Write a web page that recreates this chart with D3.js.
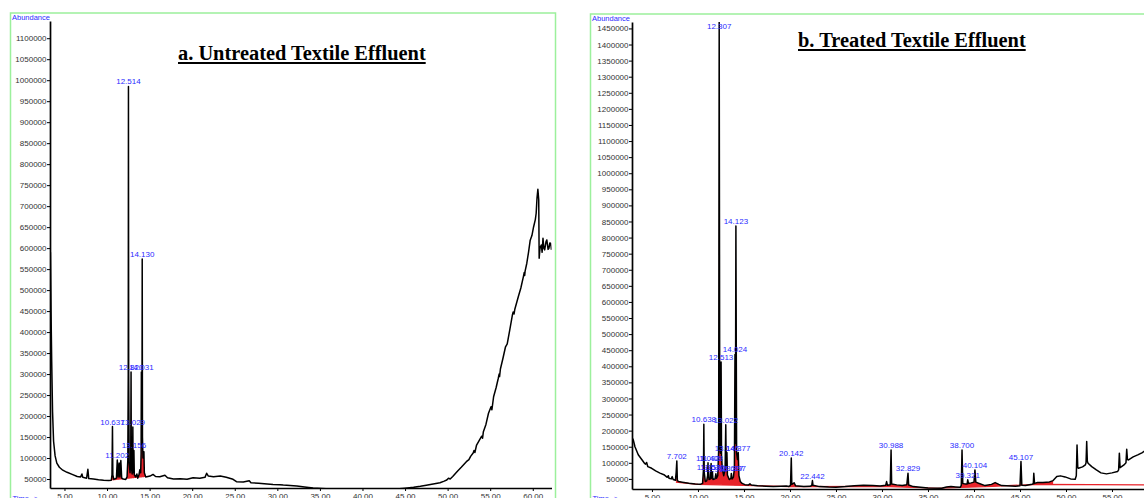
<!DOCTYPE html>
<html>
<head>
<meta charset="utf-8">
<title>GC-MS chromatograms</title>
<script src="https://cdn.jsdelivr.net/npm/d3@7/dist/d3.min.js"></script>
<style>
  body { margin: 0; background: #fff; }
  svg text { font-family: "Liberation Sans", Arial, sans-serif; }
</style>
</head>
<body>
<script>
// ---------- values (time in min, abundance) ----------
var timeTicks = [5, 10, 15, 20, 25, 30, 35, 40, 45, 50, 55, 60];
var abundTicksA = [50000, 100000, 150000, 200000, 250000, 300000, 350000, 400000, 450000, 500000,
  550000, 600000, 650000, 700000, 750000, 800000, 850000, 900000, 950000, 1000000, 1050000, 1100000];
var abundTicksB = [50000, 100000, 150000, 200000, 250000, 300000, 350000, 400000, 450000, 500000,
  550000, 600000, 650000, 700000, 750000, 800000, 850000, 900000, 950000, 1000000, 1050000, 1100000,
  1150000, 1200000, 1250000, 1300000, 1350000, 1400000, 1450000];

// a. untreated effluent
var traceA = [
  [3.35, 590000], [3.42, 450000], [3.5, 330000], [3.6, 210000], [3.72, 140000], [3.9, 105000],
  [4.1, 88000], [4.4, 78000], [4.8, 71000], [5.3, 66000], [5.9, 61000], [6.5, 56000], [6.9, 55000],
  [7.05, 62000], [7.15, 54000], [7.6, 52000], [7.75, 73000], [7.85, 51000], [8.4, 50000], [9.0, 48000],
  [9.6, 47000], [10.2, 46500], [10.5, 47000], [10.58, 60000], [10.637, 175000], [10.68, 60000],
  [10.8, 49000], [11.1, 52000], [11.202, 95000], [11.3, 55000], [11.42, 88000], [11.5, 55000],
  [11.62, 94000], [11.72, 52000], [11.9, 50000], [12.2, 49000], [12.35, 55000], [12.44, 95000],
  [12.49, 300000], [12.514, 985000], [12.54, 300000], [12.6, 90000], [12.7, 65000], [12.78, 90000],
  [12.82, 305000], [12.85, 80000], [12.95, 62000], [13.0, 90000], [13.029, 174000], [13.06, 75000],
  [13.12, 65000], [13.156, 118000], [13.2, 60000], [13.35, 55000], [13.5, 62000], [13.6, 52000],
  [13.75, 60000], [13.85, 72000], [13.95, 65000], [14.0, 110000], [14.031, 305000], [14.06, 140000],
  [14.1, 150000], [14.13, 574000], [14.16, 150000], [14.22, 100000], [14.33, 115000], [14.38, 65000],
  [14.55, 55000], [14.8, 56000], [15.05, 57000], [15.4, 61000], [15.7, 56000], [16.2, 55500],
  [16.8, 59000], [17.1, 53000], [17.8, 50000], [18.6, 50500], [19.4, 49300], [20.1, 53000],
  [20.9, 51700], [21.5, 54000], [21.7, 63600], [21.9, 57000], [22.5, 55500], [23.3, 57000],
  [24.0, 54000], [24.8, 49300], [25.2, 43600], [26.0, 43000], [26.7, 46000], [26.9, 41300],
  [27.8, 40000], [28.8, 38100], [29.5, 37000], [30.3, 36500], [30.7, 35700], [31.5, 34500],
  [32.3, 33400], [33.2, 31000], [34.2, 28600], [35.2, 27500], [36.2, 26200], [38.0, 25800],
  [40.1, 25500], [42.0, 25800], [44.0, 26200], [45.0, 28000], [46.0, 30200], [46.8, 32500],
  [47.5, 35000], [48.3, 38000], [49.1, 41200], [49.6, 45000], [49.9, 47700], [50.1, 52000],
  [50.3, 50000], [50.6, 56000], [51.1, 67400], [51.6, 78000], [52.2, 91300], [52.5, 96000],
  [52.7, 104000], [53.0, 112000], [53.1, 118000], [53.2, 113000], [53.4, 131000], [53.8, 145000],
  [54.0, 152000], [54.1, 147000], [54.2, 162700], [54.5, 180000], [54.8, 206600], [55.1, 222000],
  [55.2, 215000], [55.4, 246000], [55.7, 268000], [55.95, 290000], [56.05, 300000], [56.1, 294000],
  [56.2, 312000], [56.5, 337600], [56.8, 365000], [57.0, 372000], [57.3, 405000], [57.6, 440000],
  [57.7, 448000], [57.8, 443000], [57.9, 455000], [58.3, 484000], [58.6, 505000], [58.9, 532000],
  [59.0, 542000], [59.05, 535000], [59.1, 545000], [59.3, 564000], [59.5, 590000], [59.7, 619000],
  [59.9, 630000], [60.1, 651000], [60.3, 668000], [60.4, 683000], [60.5, 720000], [60.6, 740000],
  [60.7, 715000], [60.75, 576000], [60.85, 600000], [61.0, 607600], [61.1, 590000], [61.2, 623500],
  [61.3, 600000], [61.4, 595700], [61.55, 615000], [61.65, 619500], [61.8, 597000], [61.9, 599700],
  [62.0, 612000], [62.1, 611600], [62.2, 595700]
];
var peakTextA = ["10.637", "11.202", "12.514", "12.820", "13.029", "13.156", "14.031", "14.130"];
var peakTimeA = [10.637, 11.202, 12.514, 12.82, 13.029, 13.156, 14.031, 14.13];
var peakAbundA = [175000, 95000, 985000, 305000, 174000, 118000, 305000, 574000];
var redBaseA = [[10.45, 46500], [14.6, 55000]];

// b. treated effluent
var traceB = [
  [2.86, 177000], [2.97, 171000], [3.15, 150000], [3.51, 125000], [4.05, 104000], [4.17, 99000],
  [4.3, 96000], [4.42, 101000], [4.55, 88000], [4.97, 83000], [5.4, 75000], [5.87, 68000],
  [6.3, 63000], [6.66, 55000], [6.78, 60000], [6.85, 52000], [7.1, 50000], [7.2, 57000], [7.3, 48000],
  [7.55, 46000], [7.63, 70000], [7.702, 106000], [7.76, 45000], [7.9, 41600], [8.3, 39800],
  [9.0, 36700], [9.7, 34500], [10.3, 33600], [10.5, 36000], [10.6, 80000], [10.638, 220000],
  [10.68, 70000], [10.8, 42000], [10.95, 44000], [11.05, 60000], [11.092, 100000], [11.12, 55000],
  [11.153, 72000], [11.2, 48000], [11.35, 50000], [11.428, 98000], [11.47, 52000], [11.57, 72000],
  [11.63, 48000], [11.85, 50000], [11.95, 66000], [12.02, 52000], [12.15, 60000], [12.25, 140000],
  [12.307, 1480000], [12.37, 160000], [12.45, 130000], [12.513, 413000], [12.56, 120000],
  [12.65, 80000], [12.8, 60000], [12.95, 80000], [13.022, 218000], [13.07, 90000], [13.146, 132000],
  [13.2, 62000], [13.4, 48000], [13.58, 52000], [13.627, 67000], [13.7, 50000], [13.85, 55000],
  [13.897, 67000], [13.96, 80000], [14.024, 437000], [14.07, 160000], [14.123, 836000],
  [14.2, 130000], [14.3, 110000], [14.377, 132000], [14.45, 60000], [14.6, 42000], [14.8, 36000],
  [15.1, 32000], [15.5, 31400], [15.65, 34500], [15.8, 31000], [16.5, 29000], [17.4, 27500],
  [18.2, 26000], [19.0, 27000], [19.6, 28000], [19.9, 26500], [20.06, 30000], [20.142, 115000],
  [20.2, 33000], [20.45, 38000], [20.6, 29000], [21.5, 26000], [22.2, 27000], [22.37, 30000],
  [22.442, 45000], [22.5, 30000], [23.2, 26000], [24.2, 24500], [25.0, 24000], [26.0, 26000],
  [27.0, 29000], [28.0, 30000], [29.0, 29200], [29.8, 28300], [30.4, 30000], [30.5, 41600],
  [30.6, 30000], [30.9, 32000], [30.988, 140000], [31.05, 34000], [31.6, 31400], [32.2, 29200],
  [32.7, 32000], [32.829, 67700], [32.9, 31000], [33.4, 26000], [34.2, 24000], [35.0, 22000],
  [36.5, 21000], [37.0, 24500], [37.5, 26000], [38.0, 25000], [38.5, 24000], [38.62, 30000],
  [38.7, 140000], [38.78, 36000], [39.0, 34500], [39.25, 34000], [39.321, 47000], [39.4, 36000],
  [39.7, 37600], [40.0, 40000], [40.104, 78000], [40.2, 40000], [40.5, 36600], [41.2, 29200],
  [41.9, 33000], [42.3, 38500], [42.7, 33000], [43.0, 29200], [44.0, 28000], [44.5, 27300],
  [45.0, 29000], [45.107, 104000], [45.2, 30000], [45.6, 29200], [46.3, 33600], [46.45, 35000],
  [46.5, 67700], [46.58, 36000], [46.9, 38500], [47.5, 38500], [48.2, 40700], [48.6, 44700],
  [49.0, 57200], [49.4, 59400], [49.9, 56200], [50.5, 50000], [51.0, 49100], [51.12, 60000],
  [51.2, 155000], [51.28, 85000], [51.35, 83000], [51.8, 87300], [52.1, 93500], [52.18, 100000],
  [52.25, 166000], [52.32, 105000], [52.4, 98800], [52.8, 88200], [53.3, 78000], [53.8, 68700],
  [54.4, 65600], [55.0, 68700], [55.6, 72700], [55.72, 78000], [55.8, 130000], [55.88, 85000],
  [56.0, 87300], [56.3, 93500], [56.52, 100000], [56.6, 142000], [56.68, 110000], [56.8, 109000],
  [57.3, 118400], [57.8, 124600], [58.3, 131800], [58.7, 140000]
];
var peakTextB = ["7.702", "10.638", "11.092", "11.428", "11.153", "11.570", "11.950", "12.307",
  "12.513", "13.022", "13.146", "13.627", "13.897", "14.024", "14.123", "14.377", "20.142", "22.442",
  "30.988", "32.829", "38.700", "39.321", "40.104", "45.107"];
var peakTimeB = [7.702, 10.638, 11.092, 11.428, 11.153, 11.57, 11.95, 12.307, 12.513, 13.022, 13.146,
  13.627, 13.897, 14.024, 14.123, 14.377, 20.142, 22.442, 30.988, 32.829, 38.7, 39.321, 40.104, 45.107];
var peakAbundB = [106000, 220000, 100000, 98000, 72000, 72000, 66000, 1480000, 413000, 218000, 132000,
  67000, 67000, 437000, 836000, 132000, 115000, 45000, 140000, 67700, 140000, 47000, 78000, 104000];
var redBaseB = [[7.6, 40000], [10, 33000], [15, 30000], [20, 26000], [30, 26500], [36, 21000],
  [42, 27000], [47, 33000], [60, 31000]];
var redFillEndB = 48.6;

// ---------- drawing ----------
var svg = d3.select("body").append("svg")
  .attr("width", 1144)
  .attr("height", 498);

var green = "#9cf09c";
var red = "#e8232a";
var blue = "#2b2bff";

function drawPanel(p) {
  var g = svg.append("g");

  // light green frame
  g.append("rect")
    .attr("x", p.frame[0]).attr("y", p.frame[1])
    .attr("width", p.frame[2]).attr("height", p.frame[3])
    .attr("fill", "none").attr("stroke", green).attr("stroke-width", 1.5);

  g.append("text")
    .attr("x", p.frame[0] + 1.5).attr("y", p.frame[1] + 6.5)
    .attr("font-size", 7.5).attr("fill", blue)
    .text("Abundance");
  g.append("text")
    .attr("x", p.frame[0] + 2).attr("y", 501)
    .attr("font-size", 7.5).attr("fill", blue)
    .text("Time-->");

  var clipId = p.id + "clip";
  svg.append("clipPath").attr("id", clipId)
    .append("rect")
    .attr("x", p.x.range()[0]).attr("y", p.y.range()[1])
    .attr("width", p.x.range()[1] - p.x.range()[0])
    .attr("height", p.y.range()[0] - p.y.range()[1]);

  var plot = g.append("g").attr("clip-path", "url(#" + clipId + ")");

  // integration baseline (red) and integrated area
  var base = d3.scaleLinear()
    .domain(p.redBase.map(function(d) { return d[0]; }))
    .range(p.redBase.map(function(d) { return d[1]; }))
    .clamp(true);
  var t0 = p.redBase[0][0];
  var inArea = p.trace.filter(function(d) { return d[0] >= t0 && d[0] <= p.redEnd; });
  plot.append("path")
    .datum(inArea)
    .attr("fill", red)
    .attr("d", d3.area()
      .x(function(d) { return p.x(d[0]); })
      .y0(function(d) { return p.y(base(d[0])); })
      .y1(function(d) { return p.y(Math.max(d[1], base(d[0]))); }));
  if (p.redLine) {
    plot.append("path")
      .datum(p.redBase)
      .attr("fill", "none").attr("stroke", red).attr("stroke-width", 1.2)
      .attr("d", d3.line()
        .x(function(d) { return p.x(d[0]); })
        .y(function(d) { return p.y(d[1]); }));
  }

  // chromatogram trace
  plot.append("path")
    .datum(p.trace)
    .attr("fill", "none")
    .attr("stroke", "#000")
    .attr("stroke-width", 1.5)
    .attr("stroke-linejoin", "round")
    .attr("d", d3.line()
      .x(function(d) { return p.x(d[0]); })
      .y(function(d) { return p.y(d[1]); }));

  // axes
  var ya = g.append("g")
    .attr("transform", "translate(" + p.x.range()[0] + ",0)")
    .call(d3.axisLeft(p.y).tickValues(p.yTicks).tickFormat(d3.format("d")).tickSize(3).tickSizeOuter(0));
  var xa = g.append("g")
    .attr("transform", "translate(0," + p.y.range()[0] + ")")
    .call(d3.axisBottom(p.x).tickValues(timeTicks).tickFormat(d3.format(".2f")).tickSize(3).tickSizeOuter(0));
  [ya, xa].forEach(function(a) {
    a.attr("font-family", "Liberation Sans, Arial, sans-serif").attr("font-size", 8);
    a.select(".domain").attr("stroke-width", 1.7);
    a.selectAll("text").attr("fill", "#333");
  });
  ya.selectAll("text").attr("x", -3.5);
  xa.selectAll("text").attr("y", 5);

  // peak labels
  var top = p.y.range()[1];
  g.append("g").selectAll("text")
    .data(p.peakText)
    .enter()
    .append("text")
    .attr("x", function(d, i) { return p.x(p.peakTime[i]); })
    .attr("y", function(d, i) { return Math.max(p.y(p.peakAbund[i]), top + 9) - 2; })
    .attr("text-anchor", "middle")
    .attr("font-size", 8)
    .attr("fill", blue)
    .text(function(d) { return d; });

  // title
  var title = g.append("text")
    .attr("x", p.title[1]).attr("y", p.title[2])
    .style("font-family", "'Liberation Serif', 'Times New Roman', serif")
    .attr("font-weight", "bold")
    .attr("font-size", 20.4)
    .attr("fill", "#000")
    .text(p.title[0]);
  var tw = title.node().getComputedTextLength();
  g.append("line")
    .attr("x1", p.title[1]).attr("x2", p.title[1] + tw)
    .attr("y1", p.title[2] + 3).attr("y2", p.title[2] + 3)
    .attr("stroke", "#000").attr("stroke-width", 2);
}

drawPanel({
  id: "a",
  frame: [10.5, 13, 545, 520],
  x: d3.scaleLinear().domain([3.3, 62.2]).range([50, 551.5]),
  y: d3.scaleLinear().domain([28600, 1141000]).range([488, 21]),
  yTicks: abundTicksA,
  trace: traceA,
  peakText: peakTextA, peakTime: peakTimeA, peakAbund: peakAbundA,
  redBase: redBaseA, redEnd: redBaseA[1][0], redLine: false,
  title: ["a. Untreated Textile Effluent", 178, 60]
});

drawPanel({
  id: "b",
  frame: [590.5, 14, 600, 520],
  x: d3.scaleLinear().domain([2.83, 60]).range([632, 1158]),
  y: d3.scaleLinear().domain([18600, 1470000]).range([489, 22]),
  yTicks: abundTicksB,
  trace: traceB,
  peakText: peakTextB, peakTime: peakTimeB, peakAbund: peakAbundB,
  redBase: redBaseB, redEnd: redFillEndB, redLine: true,
  title: ["b. Treated Textile Effluent", 798, 47]
});
</script>
</body>
</html>
